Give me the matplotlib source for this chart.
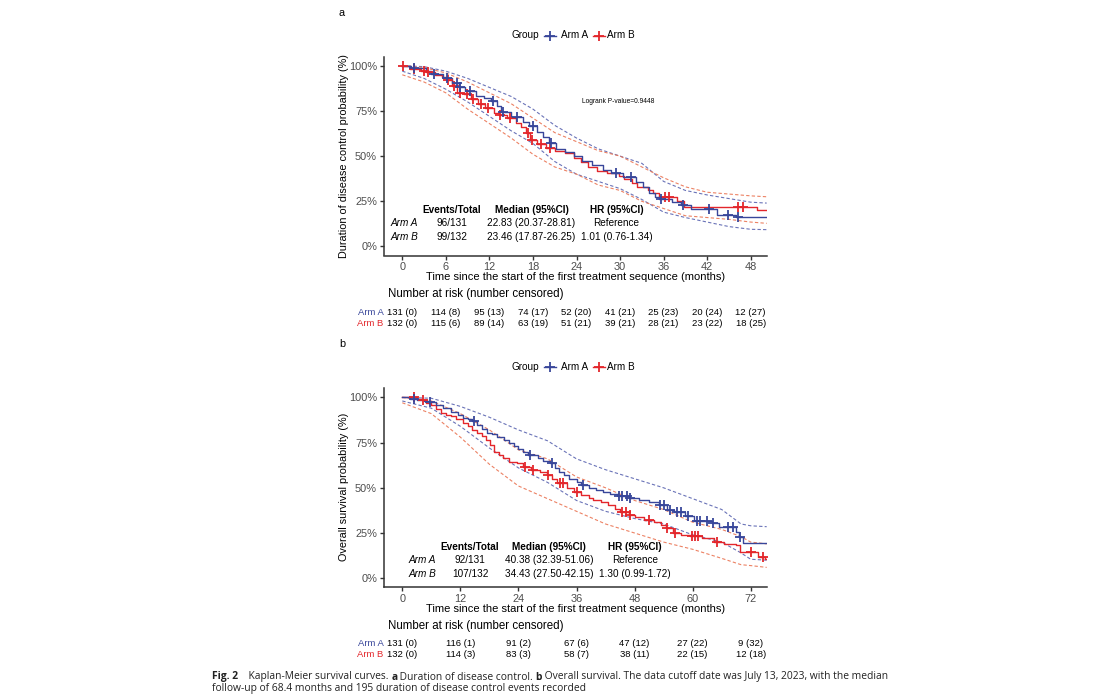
import numpy as np
import matplotlib
matplotlib.use("Agg")
import matplotlib.pyplot as plt
from matplotlib.lines import Line2D
from matplotlib.transforms import blended_transform_factory

plt.rcParams['font.family'] = ['Liberation Sans', 'DejaVu Sans']

BLUE = '#38469A'
RED = '#E3262B'
BLUE_CI = '#5A64B0'
RED_CI = '#EA7453'
AXC = '#333333'
TICKC = '#4D4D4D'

groups = ['Arm A', 'Arm B']

# ---------------- Panel a: duration of disease control ----------------
a_A_t = [0, 1.2, 3.2, 4.0, 5.6, 6.8, 7.8, 8.6, 10.2, 11.2, 12.2, 13.0, 13.6, 15.0, 16.6, 17.4,
         18.6, 19.4, 20.2, 21.2, 22.4, 23.6, 24.8, 26.2, 27.6, 28.8, 30.4, 32.2, 33.2, 34.0,
         34.8, 35.4, 37.2, 38.4, 39.8, 43.4, 46.0, 50.2]
a_A_s = [100, 98.9, 97.0, 95.4, 93.4, 90.6, 88.0, 86.2, 83.5, 82.0, 80.7, 77.5, 74.6, 71.5, 69.0, 66.7,
         63.5, 60.5, 57.5, 54.0, 52.0, 50.0, 47.5, 45.0, 42.5, 40.5, 38.3, 35.5, 33.0, 29.5,
         27.5, 26.2, 24.5, 22.7, 20.6, 17.5, 16.2, 16.2]
a_A_cens = [1.6, 4.4, 6.1, 7.5, 8.0, 9.3, 12.5, 13.9, 15.8, 18.05, 20.5, 29.4, 31.5, 35.6, 38.7, 42.2, 44.8, 46.3]

a_B_t = [0, 1.0, 2.6, 3.3, 4.5, 5.5, 6.0, 6.8, 7.6, 8.5, 9.4, 10.4, 11.4, 12.6, 13.3, 14.4, 15.6,
         16.4, 17.1, 17.6, 18.6, 19.8, 21.0, 22.4, 23.6, 24.6, 25.6, 26.8, 28.2, 29.8, 30.6, 31.6,
         32.4, 33.8, 34.6, 35.4, 37.8, 38.8, 48.8, 50.2]
a_B_s = [100, 98.3, 97.2, 96.7, 95.0, 93.5, 92.1, 88.8, 85.1, 84.3, 81.6, 78.8, 76.4, 74.0, 72.7, 70.9, 68.5,
         66.0, 63.0, 58.9, 56.5, 54.7, 53.0, 51.5, 49.0, 46.5, 44.0, 42.0, 40.5, 39.0, 37.5, 35.0,
         33.0, 31.5, 29.5, 27.3, 25.0, 22.1, 20.0, 20.0]
a_B_cens = [0.1, 1.6, 3.0, 3.5, 6.3, 7.1, 8.0, 8.9, 9.8, 10.8, 11.8, 13.5, 14.8, 17.3, 17.9, 19.1, 20.3,
            36.2, 36.7, 46.2, 47.0]

a_ci_t = [0, 3, 6, 9, 12, 15, 18, 21, 24, 27, 30, 33, 36, 39, 42, 45, 48, 50.2]
a_A_hi = [100, 99.5, 97, 93, 88, 83, 76, 67, 60, 54, 50, 46, 36, 31, 28.5, 26.5, 24.5, 24]
a_A_lo = [97, 93, 87, 80, 72, 64, 57, 47, 40, 36, 32, 26, 19, 16, 13.5, 11, 9.5, 9.3]
a_B_hi = [100, 99, 96, 91, 85, 79, 71, 63, 58, 53, 50, 44, 38, 33, 30, 29, 28, 27.5]
a_B_lo = [95, 91, 85, 76, 68, 60, 51, 44, 40, 34, 31, 25, 21, 17, 16, 15, 13.5, 12.8]

a_ticks = [0, 6, 12, 18, 24, 30, 36, 42, 48]
a_risk_A = [131, 114, 95, 74, 52, 41, 25, 20, 12]
a_cens_A = [0, 8, 13, 17, 20, 21, 23, 24, 27]
a_risk_B = [132, 115, 89, 63, 51, 39, 28, 23, 18]
a_cens_B = [0, 6, 14, 19, 21, 21, 21, 22, 25]
a_events = ['96/131', '99/132']
a_median = ['22.83 (20.37-28.81)', '23.46 (17.87-26.25)']
a_hr = ['Reference', '1.01 (0.76-1.34)']
a_pval = 'Logrank P-value=0.9448'

# ---------------- Panel b: overall survival ----------------
b_A_t = [0, 1.5, 3.0, 4.5, 5.5, 7.0, 8.5, 10.0, 11.5, 12.5, 13.5, 14.5, 15.5, 16.5, 17.5, 18.5, 19.5,
         21.0, 22.0, 23.0, 24.0, 25.0, 26.0, 28.0, 29.0, 30.5, 31.5, 32.3, 33.5, 34.5, 36.0, 37.0,
         38.5, 40.0, 41.5, 43.0, 44.5, 46.8, 49.0, 51.0, 53.0, 54.8, 56.2, 58.5, 60.2, 62.6, 64.0,
         65.5, 69.0, 69.6, 70.5, 75.3]
b_A_s = [100, 99.0, 98.4, 98.0, 97.6, 95.8, 94.0, 92.0, 90.0, 88.5, 88.0, 86.9, 84.5, 82.5, 80.5, 79.5, 78.3,
         76.5, 75.0, 73.0, 71.5, 70.0, 68.1, 66.5, 65.0, 63.5, 61.0, 58.9, 57.0, 55.0, 53.0, 51.6,
         50.0, 49.0, 47.5, 46.5, 45.5, 44.2, 43.0, 42.0, 40.5, 37.8, 36.5, 34.4, 31.9, 31.5, 30.4,
         28.5, 25.5, 23.0, 19.3, 19.3]
b_A_cens = [2.5, 5.7, 14.8, 26.4, 30.9, 37.4, 44.7, 45.5, 46.5, 47.1, 53.3, 54.0, 55.3, 56.7, 57.5,
            59.1, 60.9, 61.5, 62.9, 64.3, 67.4, 68.3, 69.7]

b_B_t = [0, 3.0, 4.0, 5.0, 6.0, 7.0, 8.0, 9.0, 10.0, 11.0, 12.5, 13.5, 14.5, 15.5, 16.5, 17.4, 18.2,
         19.0, 20.0, 20.9, 22.0, 23.6, 25.0, 26.5, 28.5, 30.0, 31.0, 32.0, 34.0, 35.5, 37.0, 38.5,
         39.5, 41.0, 42.5, 44.0, 45.0, 46.8, 48.0, 50.0, 52.0, 53.5, 54.5, 56.0, 57.5, 59.5, 62.0,
         64.5, 66.5, 69.0, 69.8, 73.5, 75.0, 75.3]
b_B_s = [100, 99.0, 98.5, 97.0, 95.5, 93.5, 91.5, 90.0, 89.7, 88.0, 86.0, 84.0, 82.0, 80.5, 78.5, 76.4, 73.5,
         70.0, 68.0, 66.3, 64.5, 63.5, 61.7, 59.9, 58.5, 57.1, 55.0, 52.5, 50.0, 47.9, 46.0, 44.5,
         43.3, 42.0, 40.5, 38.5, 36.8, 35.0, 34.0, 32.2, 31.0, 29.5, 27.6, 24.9, 24.0, 23.4, 22.0,
         19.9, 19.0, 18.4, 14.7, 12.0, 10.8, 10.8]
b_B_cens = [2.5, 4.3, 25.4, 27.1, 30.2, 32.6, 33.3, 36.0, 45.3, 46.2, 47.1, 50.9, 54.7, 56.4, 59.8,
            60.5, 61.2, 65.0, 72.0, 74.6]

b_ci_t = [0, 6, 12, 18, 24, 30, 36, 42, 48, 54, 60, 66, 70, 72, 75.3]
b_A_hi = [100, 99.5, 95, 89, 82, 76, 66, 60, 55, 50, 44, 38, 30, 29, 28.5]
b_A_lo = [98, 94, 84, 72, 61, 53, 43, 37, 33, 30, 24, 20, 14, 10.5, 10]
b_B_hi = [100, 98, 91, 82, 71, 66, 56, 50, 43, 38, 31, 27, 23, 20, 19]
b_B_lo = [97, 91, 78, 63, 51, 44, 37, 30, 25, 20, 16, 11, 7.5, 7, 6]

b_ticks = [0, 12, 24, 36, 48, 60, 72]
b_risk_A = [131, 116, 91, 67, 47, 27, 9]
b_cens_A = [0, 1, 2, 6, 12, 22, 32]
b_risk_B = [132, 114, 83, 58, 38, 22, 12]
b_cens_B = [0, 3, 3, 7, 11, 15, 18]
b_events = ['92/131', '107/132']
b_median = ['40.38 (32.39-51.06)', '34.43 (27.50-42.15)']
b_hr = ['Reference', '1.30 (0.99-1.72)']

W, H = 1100, 700
fig = plt.figure(figsize=(11, 7), dpi=100)


def fx(px):
    return px / W


def fy(py):
    return 1 - py / H


def step_at(tk, sk, t):
    idx = np.searchsorted(np.asarray(tk), np.asarray(t), side='right') - 1
    return np.asarray(sk)[idx]


def make_axes(top, bottom, xlim, ticks):
    ax = fig.add_axes([fx(384), fy(bottom), fx(766.7) - fx(384), (bottom - top) / H])
    ax.set_xlim(*xlim)
    ax.set_ylim(-5, 105)
    ax.set_xticks(ticks)
    ax.set_xticklabels([str(t) for t in ticks])
    ax.set_yticks([0, 25, 50, 75, 100])
    ax.set_yticklabels(['0%', '25%', '50%', '75%', '100%'])
    for s in ['top', 'right']:
        ax.spines[s].set_visible(False)
    for s in ['left', 'bottom']:
        ax.spines[s].set_color(AXC)
        ax.spines[s].set_linewidth(1.1)
    ax.tick_params(axis='both', colors=AXC, labelcolor=TICKC, labelsize=7.9, length=3, width=1.0, pad=2)
    ax.set_facecolor('white')
    return ax


def draw_curves(ax, tA, sA, cA, tB, sB, cB, ct, Ahi, Alo, Bhi, Blo):
    for hi, lo, c in [(Ahi, Alo, BLUE_CI), (Bhi, Blo, RED_CI)]:
        ax.plot(ct, hi, color=c, lw=0.8, ls=(0, (3, 2)), alpha=0.9)
        ax.plot(ct, lo, color=c, lw=0.8, ls=(0, (3, 2)), alpha=0.9)
    ax.step(tB, sB, where='post', color=RED, lw=1.0)
    ax.step(tA, sA, where='post', color=BLUE, lw=1.0)
    ax.plot(cB, step_at(tB, sB, cB), ls='none', marker='+', ms=6.5, mew=1.3, color=RED)
    ax.plot(cA, step_at(tA, sA, cA), ls='none', marker='+', ms=6.5, mew=1.3, color=BLUE)


def draw_table(ax, xs, ys, events, median, hr):
    kw = dict(ha='center', va='center', fontsize=7.2, color='black')
    ax.text(xs[1], ys[0], 'Events/Total', fontweight='bold', **kw)
    ax.text(xs[2], ys[0], 'Median (95%CI)', fontweight='bold', **kw)
    ax.text(xs[3], ys[0], 'HR (95%CI)', fontweight='bold', **kw)
    for i in range(2):
        ax.text(xs[0], ys[i + 1], groups[i], style='italic', **kw)
        ax.text(xs[1], ys[i + 1], events[i], **kw)
        ax.text(xs[2], ys[i + 1], median[i], **kw)
        ax.text(xs[3], ys[i + 1], hr[i], **kw)


def draw_legend(py):
    fig.text(fx(512), fy(py), 'Group', ha='left', va='center', fontsize=7.2)
    for cx, tx, col, lab in [(550, 561, BLUE, groups[0]), (599, 607, RED, groups[1])]:
        fig.add_artist(Line2D([fx(cx - 6), fx(cx + 6)], [fy(py), fy(py)], color=col, lw=1.0))
        fig.add_artist(Line2D([fx(cx)], [fy(py)], marker='+', ms=7, mew=1.3, color=col, ls='none'))
        fig.text(fx(tx), fy(py), lab, ha='left', va='center', fontsize=7.2)


def draw_risk(ax, ticks, rA, cA, rB, cB, y_title, yA, yB):
    tr = blended_transform_factory(ax.transData, fig.transFigure)
    fig.text(fx(388), fy(y_title), 'Number at risk (number censored)', ha='left', va='center', fontsize=8.3)
    fig.text(fx(383.5), fy(yA), groups[0], ha='right', va='center', fontsize=6.8, color=BLUE)
    fig.text(fx(383.5), fy(yB), groups[1], ha='right', va='center', fontsize=6.8, color=RED)
    for t, n, c in zip(ticks, rA, cA):
        ax.text(t, fy(yA), f'{n} ({c})', transform=tr, ha='center', va='center', fontsize=6.8, clip_on=False)
    for t, n, c in zip(ticks, rB, cB):
        ax.text(t, fy(yB), f'{n} ({c})', transform=tr, ha='center', va='center', fontsize=6.8, clip_on=False)


XLABEL = 'Time since the start of the first treatment sequence (months)'

# ---------- panel a ----------
fig.text(fx(342), fy(13), 'a', ha='center', va='center', fontsize=7.8)
draw_legend(35.5)
axa = make_axes(56.7, 255.5, (-2.52, 50.2), a_ticks)
draw_curves(axa, a_A_t, a_A_s, a_A_cens, a_B_t, a_B_s, a_B_cens, a_ci_t, a_A_hi, a_A_lo, a_B_hi, a_B_lo)
draw_table(axa, [0.23, 6.8, 17.8, 29.5], [20.3, 12.9, 5.5], a_events, a_median, a_hr)
axa.text(29.8, 80.1, a_pval, ha='center', va='center', fontsize=4.8)
fig.text(fx(344), fy(156), 'Duration of disease control probability (%)', rotation=90,
         ha='center', va='center', fontsize=7.8)
fig.text(fx(576), fy(276.5), XLABEL, ha='center', va='center', fontsize=8.0)
draw_risk(axa, a_ticks, a_risk_A, a_cens_A, a_risk_B, a_cens_B, 294.5, 312.5, 323.3)

# ---------- panel b ----------
fig.text(fx(342), fy(344), 'b', ha='center', va='center', fontsize=7.8)
draw_legend(367.3)
axb = make_axes(388.3, 587.3, (-3.78, 75.3), b_ticks)
draw_curves(axb, b_A_t, b_A_s, b_A_cens, b_B_t, b_B_s, b_B_cens, b_ci_t, b_A_hi, b_A_lo, b_B_hi, b_B_lo)
draw_table(axb, [4.07, 14.0, 30.4, 48.1], [17.5, 10.1, 2.2], b_events, b_median, b_hr)
fig.text(fx(344), fy(487), 'Overall survival probability (%)', rotation=90,
         ha='center', va='center', fontsize=7.8)
fig.text(fx(576), fy(609.3), XLABEL, ha='center', va='center', fontsize=8.0)
draw_risk(axb, b_ticks, b_risk_A, b_cens_A, b_risk_B, b_cens_B, 626, 644, 654.3)

# ---------- caption ----------
renderer = fig.canvas.get_renderer()


def rich_line(x0, py, segments, size=7.4):
    x = fx(x0)
    for txt, bold in segments:
        t = fig.text(x, fy(py), txt, ha='left', va='center', fontsize=size,
                     family=['Open Sans', 'DejaVu Sans'], fontweight='bold' if bold else 'normal',
                     color='#222222')
        bb = t.get_window_extent(renderer=renderer)
        x += bb.width / W


rich_line(212, 677, [('Fig. 2', True), ('    Kaplan-Meier survival curves. ', False), ('a', True),
                     (' Duration of disease control. ', False), ('b', True),
                     (' Overall survival. The data cutoff date was July 13, 2023, with the median', False)])
rich_line(212, 688.5, [('follow-up of 68.4 months and 195 duration of disease control events recorded', False)])

fig.savefig('out.png', dpi=100, facecolor='white')
